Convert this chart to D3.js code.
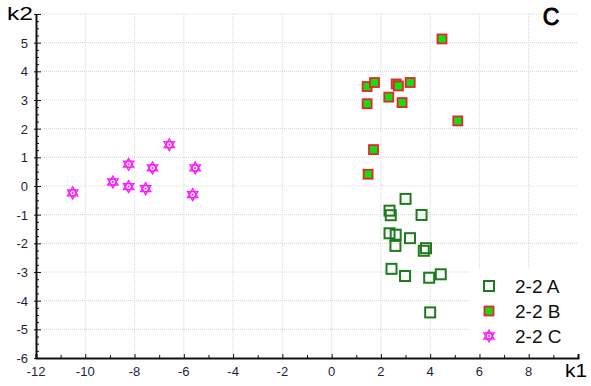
<!DOCTYPE html>
<html>
<head>
<meta charset="utf-8">
<script src="https://cdn.jsdelivr.net/npm/d3@7"></script>
<style>
  body { margin: 0; background: #fff; }
  svg { display: block; font-family: Arial, 'Liberation Sans', sans-serif; }
</style>
</head>
<body>
<div id="chart"></div>
<script>
// series: [k1, k2]
const seriesA = [
  [3.00, -0.45], [2.35, -0.86], [2.40, -1.02], [3.65, -1.01], [2.35, -1.65],
  [2.60, -1.70], [3.18, -1.82], [2.59, -2.09], [3.83, -2.17], [3.74, -2.26],
  [2.43, -2.89], [2.98, -3.14], [3.96, -3.20], [4.43, -3.08], [4.00, -4.41]
]
const seriesB = [
  [4.48, 5.13], [1.44, 3.47], [1.74, 3.61], [2.62, 3.56], [2.71, 3.49],
  [3.19, 3.61], [2.32, 3.10], [1.44, 2.87], [2.86, 2.91], [5.12, 2.27],
  [1.70, 1.27], [1.48, 0.41]
]
const seriesC = [
  [-10.51, -0.24], [-6.59, 1.44], [-8.24, 0.76], [-7.27, 0.63], [-5.54, 0.63],
  [-8.88, 0.14], [-8.24, -0.02], [-7.55, -0.09], [-5.64, -0.30]
]
const legendNames = ['2-2 A', '2-2 B', '2-2 C']
const xTicks = [-12, -10, -8, -6, -4, -2, 0, 2, 4, 6, 8]
const yTicks = [-6, -5, -4, -3, -2, -1, 0, 1, 2, 3, 4, 5]

const width = 591
const height = 386
const margin = { top: 14, right: 13, bottom: 28, left: 36 }

const x = d3.scaleLinear().domain([-12, 10]).range([margin.left, width - margin.right])
const y = d3.scaleLinear().domain([-6, 6]).range([height - margin.bottom, margin.top])

const svg = d3.select('#chart')
  .append('svg')
  .attr('width', width)
  .attr('height', height)

// dotted grid
const grid = svg.append('g')
  .attr('stroke', '#dcdcdc')
  .attr('stroke-width', 1.2)
  .attr('stroke-dasharray', '1,1')
grid.selectAll('.gx')
  .data(xTicks.filter((d) => d > -12))
  .enter()
  .append('line')
  .attr('x1', (d) => x(d)).attr('x2', (d) => x(d))
  .attr('y1', y(6)).attr('y2', y(-6))
grid.selectAll('.gy')
  .data(yTicks.concat([6]).filter((d) => d > -6))
  .enter()
  .append('line')
  .attr('x1', x(-12)).attr('x2', x(10))
  .attr('y1', (d) => y(d)).attr('y2', (d) => y(d))

// legend box covers the grid
svg.append('rect')
  .attr('x', 470).attr('y', 270)
  .attr('width', 107).attr('height', 86)
  .attr('fill', '#fff')

// axes
const tickColor = '#1e1e3c'
const xAxis = svg.append('g')
  .attr('transform', `translate(0,${y(-6)})`)
  .call(d3.axisBottom(x).tickValues(d3.range(-12, 10, 1)).tickSize(-4).tickFormat(''))
xAxis.select('.domain').attr('stroke', '#111').attr('stroke-width', 2)
xAxis.selectAll('.tick line').attr('stroke', '#111')
  .attr('y2', (d) => (d % 2 === 0 ? -4 : -3))

svg.append('g')
  .selectAll('text')
  .data(xTicks)
  .enter()
  .append('text')
  .attr('x', (d) => x(d))
  .attr('y', y(-6) + 18)
  .attr('text-anchor', 'middle')
  .attr('font-size', 13)
  .attr('fill', tickColor)
  .text((d) => d)

const yAxis = svg.append('g')
  .attr('transform', `translate(${x(-12)},0)`)
  .call(d3.axisLeft(y).tickValues(d3.range(-6, 6.01, 0.25)).tickSize(0).tickFormat(''))
yAxis.select('.domain').attr('stroke', '#111').attr('stroke-width', 2)
yAxis.selectAll('.tick line')
  .attr('stroke', '#111')
  .attr('x1', (d) => (Number.isInteger(d) ? -2 : 0))
  .attr('x2', (d) => (Number.isInteger(d) ? 5 : 3))

svg.append('g')
  .selectAll('text')
  .data(yTicks)
  .enter()
  .append('text')
  .attr('x', x(-12) - 8)
  .attr('y', (d) => y(d) + 5)
  .attr('text-anchor', 'end')
  .attr('font-size', 13)
  .attr('fill', tickColor)
  .text((d) => d)

// axis titles and panel letter
svg.append('text').attr('x', 7).attr('y', 20)
  .attr('font-size', 19).attr('textLength', 26).attr('lengthAdjust', 'spacingAndGlyphs')
  .text('k2')
svg.append('text').attr('x', 565).attr('y', 377)
  .attr('font-size', 19).attr('textLength', 22).attr('lengthAdjust', 'spacingAndGlyphs')
  .text('k1')
svg.append('text').attr('x', 551).attr('y', 25)
  .attr('text-anchor', 'middle')
  .attr('font-size', 23)
  .attr('stroke', '#000').attr('stroke-width', 0.9)
  .text('C')

// marker drawers
function drawA(g) {
  g.append('rect')
    .attr('x', -5).attr('y', -5).attr('width', 10).attr('height', 10)
    .attr('fill', 'none').attr('stroke', '#1d7a1d').attr('stroke-width', 2)
}
function drawB(g) {
  g.append('rect')
    .attr('x', -4.5).attr('y', -4.5).attr('width', 9).attr('height', 9)
    .attr('fill', '#10e010').attr('stroke', '#e8242c').attr('stroke-width', 1.8)
}
const hexagram = (() => {
  const r = 6
  const tri = (a0) => d3.range(3).map((i) => {
    const a = a0 + (i * 2 * Math.PI) / 3
    return [r * Math.sin(a), -r * Math.cos(a)]
  })
  const p = (pts) => 'M' + pts.map((q) => q.join(',')).join('L') + 'Z'
  return p(tri(0)) + p(tri(Math.PI))
})()
function drawC(g) {
  g.append('path')
    .attr('d', hexagram)
    .attr('fill', 'none').attr('stroke', '#ff1aff').attr('stroke-width', 1.3)
  g.append('circle').attr('r', 3.2)
    .attr('fill', 'none').attr('stroke', '#ff1aff').attr('stroke-width', 1.2)
  g.append('circle').attr('r', 1).attr('fill', '#ff1aff')
}

const series = [
  { data: seriesA, draw: drawA },
  { data: seriesB, draw: drawB },
  { data: seriesC, draw: drawC },
]

series.forEach((s) => {
  svg.append('g')
    .selectAll('g')
    .data(s.data)
    .enter()
    .append('g')
    .attr('transform', (d) => `translate(${x(d[0])},${y(d[1])})`)
    .each(function () { s.draw(d3.select(this)) })
})

// legend
const legend = svg.append('g')
legendNames.forEach((name, i) => {
  const row = legend.append('g').attr('transform', `translate(489,${286 + i * 25})`)
  series[i].draw(row)
  row.append('text')
    .attr('x', 26).attr('y', 7)
    .attr('font-size', 19)
    .attr('fill', '#111')
    .text(name)
})
</script>
</body>
</html>
